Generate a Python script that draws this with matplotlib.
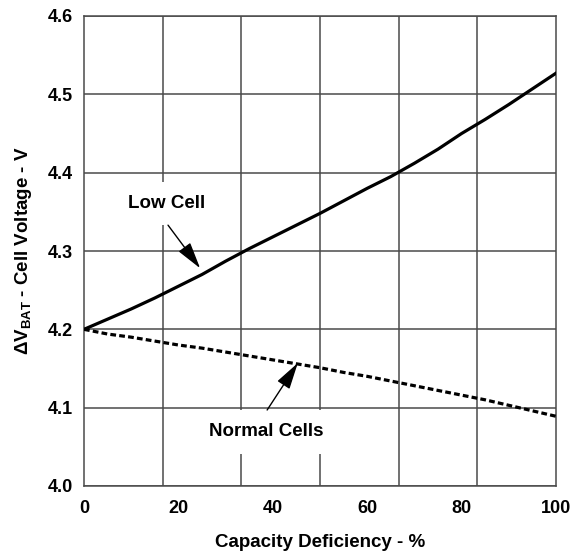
import numpy as np
import matplotlib
matplotlib.use("Agg")
import matplotlib.pyplot as plt

# capacity deficiency (%) and cell voltages
deficiency = [0, 5, 10, 15, 20, 25, 30, 35, 40, 45, 50,
              55, 60, 65, 70, 75, 80, 85, 90, 95, 100]
low_cell = [4.200, 4.213, 4.226, 4.240, 4.255, 4.270, 4.287, 4.303, 4.318, 4.333, 4.348,
            4.364, 4.380, 4.395, 4.412, 4.430, 4.450, 4.468, 4.487, 4.507, 4.527]
normal_cells = [4.200, 4.194, 4.190, 4.185, 4.180, 4.176, 4.171, 4.166, 4.161, 4.156, 4.151,
                4.145, 4.140, 4.134, 4.128, 4.122, 4.116, 4.110, 4.103, 4.096, 4.089]

x_ticks = [0, 20, 40, 60, 80, 100]
y_ticks = [4.0, 4.1, 4.2, 4.3, 4.4, 4.5, 4.6]

plt.rcParams["font.family"] = ["Liberation Sans", "DejaVu Sans"]
plt.rcParams["font.weight"] = "bold"
plt.rcParams["mathtext.default"] = "regular"

grid_color = "#4a4a4a"
fs = 13

fig = plt.figure(figsize=(5.71, 5.51), dpi=100)
ax = fig.add_axes([84 / 571, 65 / 551, 472 / 571, 470 / 551])

ax.plot(deficiency, low_cell, color="black", lw=2.3, zorder=4)
ax.plot(deficiency, normal_cells, color="black", lw=2.3,
        linestyle=(0, (1.8, 1.0)), zorder=4)

ax.set_xlim(0, 100)
ax.set_ylim(4.0, 4.6)
ax.set_xticks(x_ticks)
ax.set_xticks(np.linspace(0, 100, 7), minor=True)
ax.set_yticks(y_ticks)
ax.set_yticklabels([f"{v:.1f}" for v in y_ticks])
ax.tick_params(which="both", length=0, labelsize=fs)
ax.tick_params(axis="x", pad=10)
ax.tick_params(axis="y", pad=8)
ax.grid(which="minor", axis="x", color=grid_color, lw=1.1)
ax.grid(which="major", axis="y", color=grid_color, lw=1.1)
ax.grid(which="major", axis="x", visible=False)
for sp in ax.spines.values():
    sp.set_color(grid_color)
    sp.set_linewidth(1.1)

ax.set_xlabel("Capacity Deficiency - %", fontsize=fs + 0.5, fontweight="bold", labelpad=12)
ax.set_ylabel(r"$\Delta$V$_{BAT}$ - Cell Voltage - V", fontsize=fs + 0.5,
              fontweight="bold", labelpad=10)

box = dict(boxstyle="square,pad=0.7", fc="white", ec="none")
ax.text(17.6, 4.361, "Low Cell", ha="center", va="center", fontsize=fs + 0.5,
        fontweight="bold", bbox=box, zorder=3)
ax.text(38.6, 4.069, "Normal Cells", ha="center", va="center", fontsize=fs + 0.5,
        fontweight="bold", bbox=box, zorder=3)

arrow = dict(arrowstyle="-|>,head_length=1.1,head_width=0.3", color="black",
             lw=1.0, mutation_scale=15, shrinkA=0, shrinkB=0)
ax.annotate("", xy=(24.6, 4.278), xytext=(17.8, 4.333), arrowprops=arrow, zorder=5)
ax.annotate("", xy=(45.3, 4.157), xytext=(38.8, 4.097), arrowprops=arrow, zorder=5)

fig.savefig("out.png", dpi=100)
